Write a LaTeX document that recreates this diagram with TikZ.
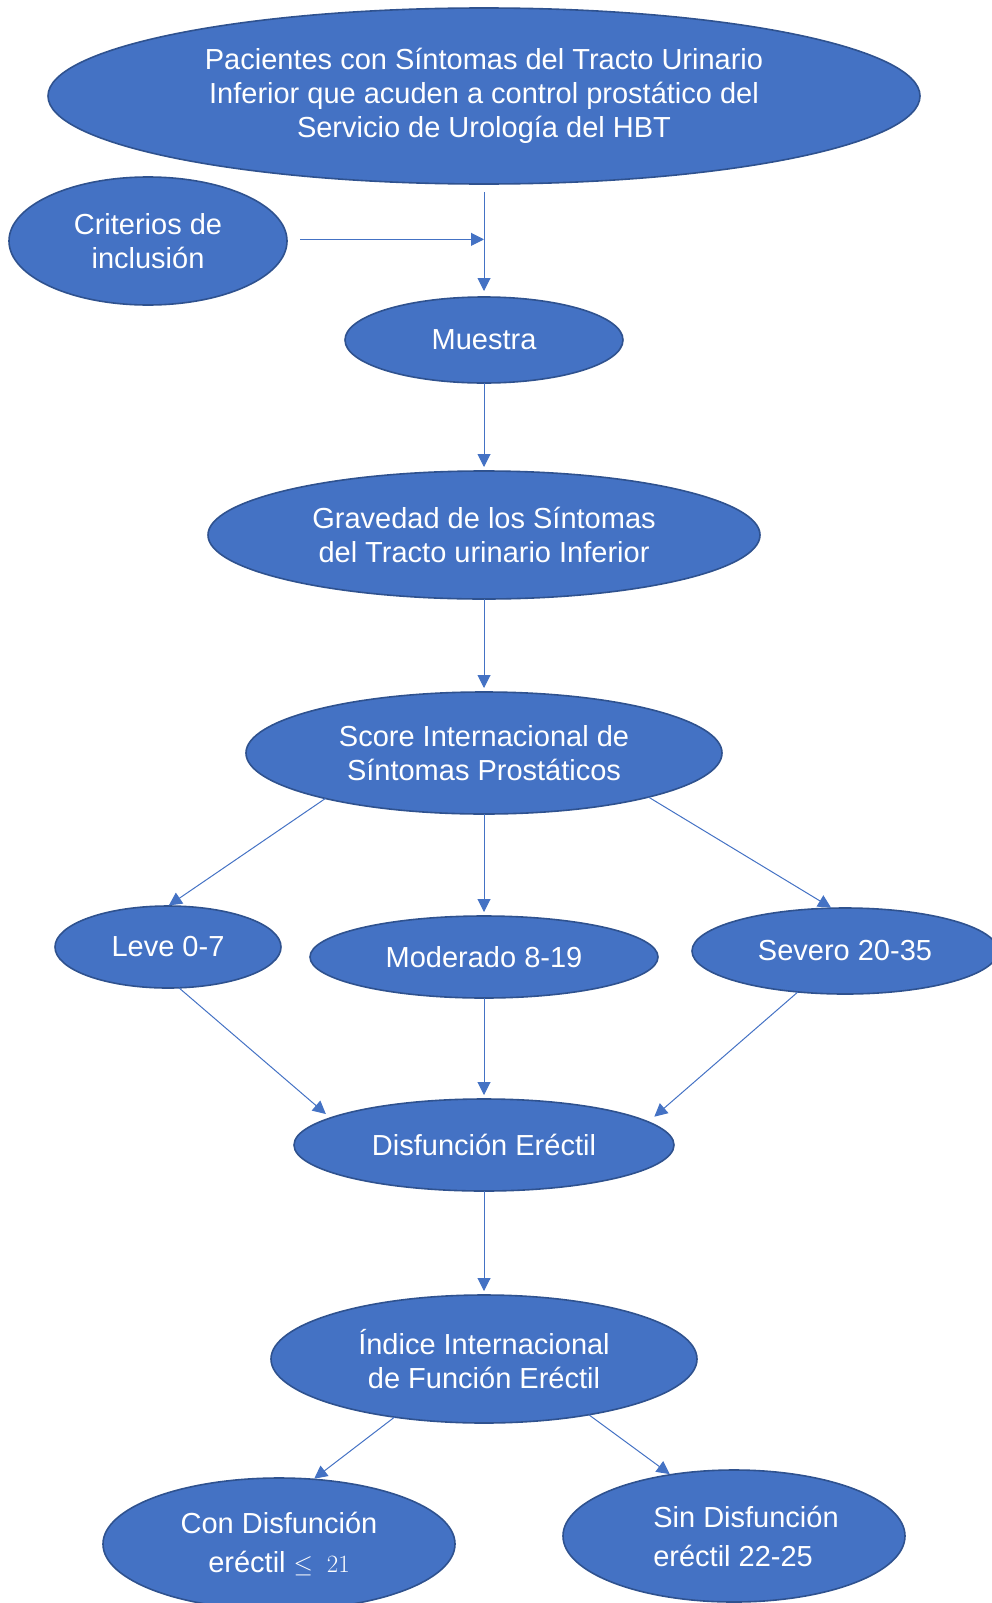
\documentclass[tikz,border=0pt]{standalone}
\usepackage{fontspec}
\setmainfont{Liberation Sans}
\usetikzlibrary{calc,shapes.geometric,arrows.meta}
\definecolor{boxblue}{HTML}{4472C4}
\definecolor{rimblue}{HTML}{2F528F}

\begin{document}
\begin{tikzpicture}[x=1pt,y=-1pt,
                bubble/.style={ellipse,fill=boxblue,draw=rimblue,line width=1.6pt,inner sep=0pt,outer sep=0pt,
                               text=white,align=center,font=\fontsize{29}{34}\selectfont},
                link/.style={draw=boxblue,line width=1pt,->,shorten >=4pt},
                >={Triangle[length=13pt,width=13pt]}
                ]
                \useasboundingbox (0,0) rectangle (992,1603);
                \node [bubble,minimum width=872,minimum height=176] (patients) at (484,96)
                    {Pacientes con Síntomas del Tracto Urinario\\Inferior que acuden a control prostático del\\Servicio de Urología del HBT};
                \node [bubble,minimum width=278,minimum height=128] (criteria) at (148,241) {Criterios de\\inclusión};
                \node [bubble,minimum width=278,minimum height=86] (sample) at (484,340) {Muestra};
                \node [bubble,minimum width=552,minimum height=128] (severity) at (484,535)
                    {Gravedad de los Síntomas\\del Tracto urinario Inferior};
                \node [bubble,minimum width=476,minimum height=122] (ipss) at (484,753)
                    {Score Internacional de\\Síntomas Prostáticos};
                \node [bubble,minimum width=226,minimum height=82] (mild) at (168,947) {Leve 0-7};
                \node [bubble,minimum width=348,minimum height=82] (moderate) at (484,957) {Moderado 8-19};
                \node [bubble,minimum width=306,minimum height=86] (severe) at (845,951) {Severo 20-35};
                \node [bubble,minimum width=380,minimum height=92] (ed) at (484,1145) {Disfunción Eréctil};
                \node [bubble,minimum width=426,minimum height=128] (iief) at (484,1359)
                    {Índice Internacional\\de Función Eréctil};
                \node [bubble,minimum width=352,minimum height=132,font=\fontsize{29}{39}\selectfont] (withed) at (279,1544)
                    {Con Disfunción\\eréctil $\leq\;21$};
                \node [bubble,minimum width=342,minimum height=132,align=left,font=\fontsize{29}{39}\selectfont] (noed) at (734,1536)
                    {\hspace*{24pt}Sin Disfunción\\\hspace*{24pt}eréctil 22-25};
                % main column
                \coordinate (join) at ($(patients.south)!0.49!(sample.north)$);
                \draw [link,shorten <=8pt,shorten >=6pt] (patients.south) -- (sample.north);
                \draw [link,shorten <=13pt,shorten >=0pt] (criteria.east |- join) -- (join);
                \draw [link] (sample.south) -- (severity.north);
                \draw [link] (severity.south) -- (ipss.north);
                \draw [link] (ipss.south) -- (moderate.north);
                \draw [link,shorten >=1pt] (ipss.196) -- (mild.north);
                \draw [link,shorten >=1pt] (ipss.345) -- (severe.107);
                \draw [link,shorten >=6pt] (mild.285) -- (ed.170);
                \draw [link] (moderate.south) -- (ed.north);
                \draw [link,shorten >=8pt] (severe.221) -- (ed.8);
                \draw [link] (ed.south) -- (iief.north);
                \draw [link,shorten >=1pt] (iief.213) -- (withed.62);
                \draw [link,shorten >=1pt] (iief.332) -- (noed.136);
            \end{tikzpicture}
\end{document}
